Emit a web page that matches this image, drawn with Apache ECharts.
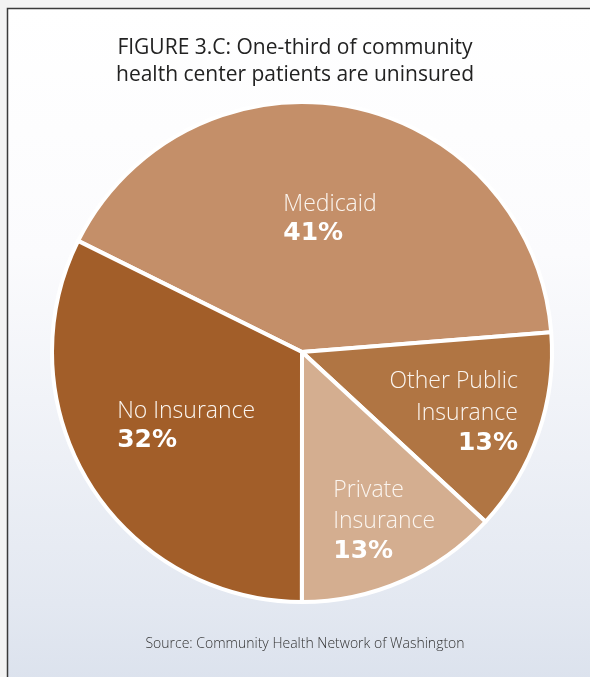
<!DOCTYPE html>
<html>
<head>
<meta charset="utf-8">
<script src="https://cdn.jsdelivr.net/npm/echarts@6/dist/echarts.min.js"></script>
<style>
html,body{margin:0;padding:0;background:#f3f3f3;}
#chart{width:590px;height:677px;}
</style>
</head>
<body>
<div id="chart"></div>
<script>
// ---- data ----
const titleLines = ['FIGURE 3.C: One-third of community', 'health center patients are uninsured'];
const sourceText = 'Source: Community Health Network of Washington';
const categories = ['Medicaid', 'Other Public\nInsurance', 'Private\nInsurance', 'No Insurance'];
const values = [41, 13, 13, 32];
const colors = ['#c48f69', '#b07543', '#d4ae90', '#a25e29'];

// label placement tweaks (style only)
const labelStyles = [
  {width: 110, padding: [0, 0, 14, 24], nameAlign: 'left', lh: 29},
  {width: 130, padding: [36, 0, 0, 60], nameAlign: 'right', lh: 32},
  {width: 110, padding: [103, 0, 0, 70], nameAlign: 'left', lh: 31},
  {width: 150, padding: [13, 2, 0, 0], nameAlign: 'left', lh: 29}
];

const chart = echarts.init(document.getElementById('chart'), null, {renderer: 'canvas'});

const seriesData = categories.map((c, i) => {
  const ls = labelStyles[i];
  const names = c.split('\n').map(s => '{n|' + s + '}').join('\n');
  return {
    name: c,
    value: values[i],
    itemStyle: {color: colors[i]},
    label: {
      width: ls.width,
      padding: ls.padding,
      formatter: names + '\n{p|' + values[i] + '%}',
      rich: {
        n: {fontFamily: 'Open Sans', fontWeight: 300, fontSize: 23, color: '#fbf5ef', align: ls.nameAlign, lineHeight: ls.lh},
        p: {fontFamily: 'DejaVu Sans', fontWeight: 'bold', fontSize: 25, color: '#ffffff', align: ls.nameAlign, lineHeight: 29}
      }
    }
  };
});

const option = {
  backgroundColor: '#f3f3f3',
  animation: false,
  graphic: [
    {
      type: 'rect', z: -10, silent: true,
      shape: {x: 7.5, y: 8.5, width: 620, height: 700},
      style: {
        fill: new echarts.graphic.LinearGradient(0, 0, 0, 1, [
          {offset: 0, color: '#ffffff'},
          {offset: 0.35, color: '#fbfbfd'},
          {offset: 0.85, color: '#e3e8f1'},
          {offset: 1, color: '#d9e0ec'}
        ]),
        stroke: '#3a3a3a', lineWidth: 1.5
      }
    },
    {
      type: 'text', x: 305, y: 644,
      style: {text: sourceText, font: '300 14px "Open Sans"', fill: '#333333', align: 'center', verticalAlign: 'middle'}
    }
  ],
  title: {
    text: titleLines.join('\n'),
    left: 290,
    top: 30,
    textAlign: 'center',
    textStyle: {fontFamily: 'Open Sans', fontWeight: 400, fontSize: 21, color: '#222222', lineHeight: 27}
  },
  series: [{
    type: 'pie',
    center: [302, 352],
    radius: 250,
    startAngle: 153.6,
    clockwise: true,
    avoidLabelOverlap: false,
    itemStyle: {borderColor: '#ffffff', borderWidth: 4},
    label: {show: true, position: 'inside'},
    labelLine: {show: false},
    emphasis: {disabled: true},
    data: seriesData
  }]
};
chart.setOption(option);
</script>
</body>
</html>
